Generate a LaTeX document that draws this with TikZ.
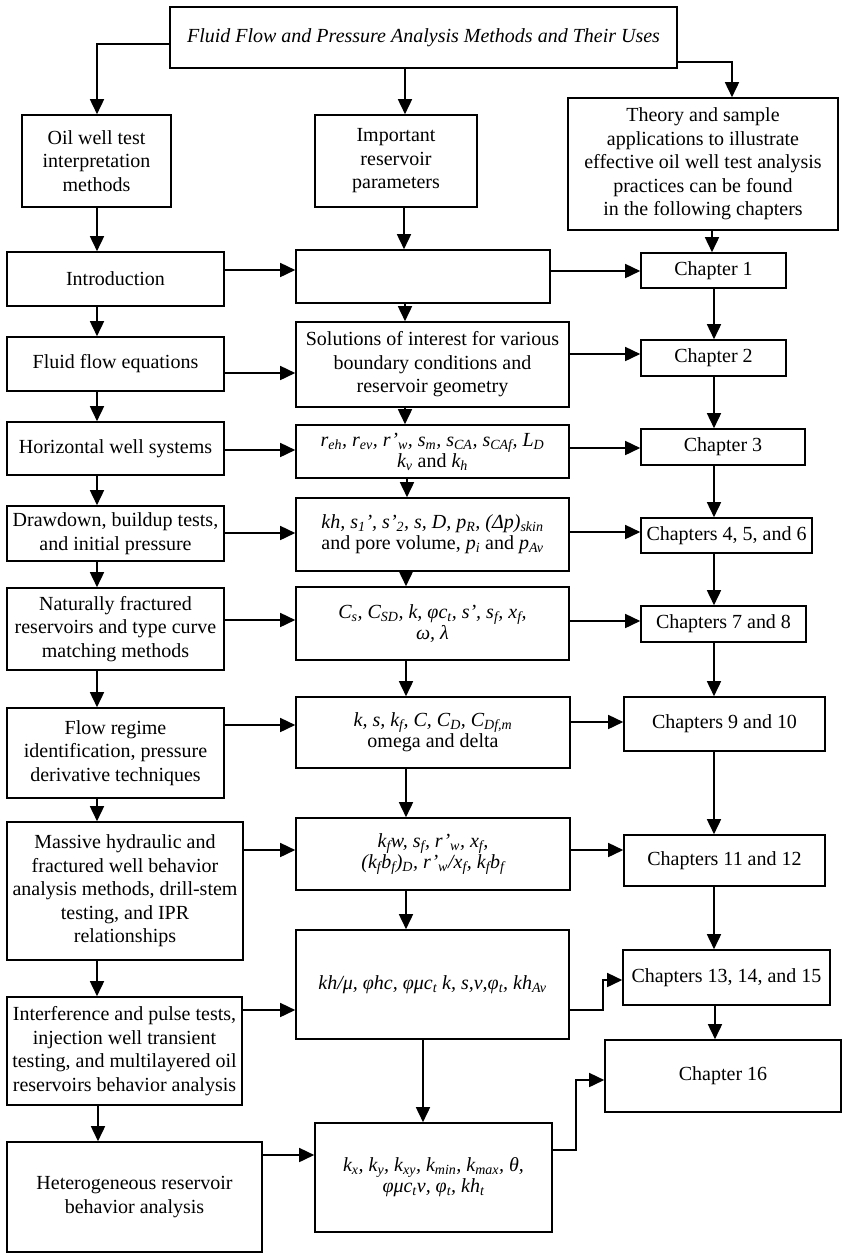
\documentclass[tikz,border=0pt]{standalone}
\usepackage{fontspec}
\setmainfont{Liberation Serif}
\usetikzlibrary{arrows.meta}
\newcommand{\sbt}[1]{\textsubscript{#1}}
% vertical connector between two stacked boxes at a given x
\newcommand{\vcon}[3]{\draw[arr] (#1.south -| #3,0) -- (#2.north -| #3,0);}
% horizontal connector between two boxes of one row at a given y
\newcommand{\hcon}[3]{\draw[arr] (#1.east |- 0,#3) -- (#2.west |- 0,#3);}

\begin{document}
\begin{tikzpicture}[x=1pt,y=-1pt,
  box/.style={draw, line width=1.6pt, align=center, inner sep=2pt,
              font=\fontsize{20}{23.5}\selectfont},
  mbox/.style={box, font=\fontsize{20}{21}\selectfont\itshape},
  arr/.style={line width=1.6pt, -{Triangle[length=15pt,width=14pt]}}]
\useasboundingbox[fill=white] (0,0) rectangle (843,1254);

% header
\node[box, font=\fontsize{20}{23}\selectfont\itshape, minimum width=507, minimum height=61]
  (top) at (423.5,37.5) {Fluid Flow and Pressure Analysis Methods and Their Uses};

% column heads
\node[box, minimum width=149, minimum height=92] (oilw) at (96.5,161)
  {Oil well test\\interpretation\\methods};
\node[box, minimum width=162, minimum height=92] (imp) at (396,161)
  {Important\\reservoir\\parameters};
\node[box, minimum width=270, minimum height=132] (theory) at (703,164)
  {Theory and sample\\applications to illustrate\\effective oil well test analysis\\practices can be found\\in the following chapters};

% left column: methods
\node[box, minimum width=217, minimum height=54] (intro) at (115.5,279) {Introduction};
\node[box, minimum width=217, minimum height=54] (fluid) at (115.5,364) {Fluid flow equations};
\node[box, minimum width=217, minimum height=53] (horiz) at (115.5,448.5) {Horizontal well systems};
\node[box, minimum width=217, minimum height=55] (drawd) at (115.5,533.5)
  {Drawdown, buildup tests,\\and initial pressure};
\node[box, minimum width=217, minimum height=82] (nat) at (115.5,629)
  {Naturally fractured\\reservoirs and type curve\\matching methods};
\node[box, minimum width=217, minimum height=90] (flow) at (115.5,753)
  {Flow regime\\identification, pressure\\derivative techniques};
\node[box, minimum width=236, minimum height=138] (mass) at (125,891)
  {Massive hydraulic and\\fractured well behavior\\analysis methods, drill-stem\\testing, and IPR\\relationships};
\node[box, minimum width=235, minimum height=108] (interf) at (124.5,1051)
  {Interference and pulse tests,\\injection well transient\\testing, and multilayered oil\\reservoirs behavior analysis};
\node[box, minimum width=255, minimum height=110] (het) at (134.5,1197)
  {Heterogeneous reservoir\\behavior analysis};

% middle column: parameters
\node[box, minimum width=254, minimum height=53] (empty) at (423,276.5) {};
\node[box, minimum width=273, minimum height=85] (sol) at (432.5,364.5)
  {Solutions of interest for various\\boundary conditions and\\reservoir geometry};
\node[mbox, minimum width=273, minimum height=53] (rbox) at (432.5,451.5)
  {r\sbt{eh}, r\sbt{ev}, r'\sbt{w}, s\sbt{m}, s\sbt{CA}, s\sbt{CAf}, L\sbt{D}\\k\sbt{v} {\upshape and} k\sbt{h}};
\node[mbox, minimum width=273, minimum height=73] (khbox) at (432.5,534.5)
  {kh, s\sbt{1}', s'\sbt{2}, s, D, p\sbt{R}, (Δp)\sbt{skin}\\{\upshape and pore volume,} p\sbt{i} {\upshape and} p\sbt{Av}};
\node[mbox, minimum width=273, minimum height=73] (cbox) at (432.5,623.5)
  {C\sbt{s}, C\sbt{SD}, k, φc\sbt{t}, s', s\sbt{f}, x\sbt{f},\\ω, λ};
\node[mbox, minimum width=274, minimum height=71] (kbox) at (433,732.5)
  {k, s, k\sbt{f}, C, C\sbt{D}, C\sbt{Df,m}\\{\upshape omega and delta}};
\node[mbox, minimum width=274, minimum height=72] (kfbox) at (433,854)
  {k\sbt{f}w, s\sbt{f}, r'\sbt{w}, x\sbt{f},\\(k\sbt{f}b\sbt{f})\sbt{D}, r'\sbt{w}/x\sbt{f}, k\sbt{f}b\sbt{f}};
\node[mbox, minimum width=273, minimum height=109] (khmu) at (432.5,984.5)
  {kh/μ, φhc, φμc\sbt{t} k, s,ν,φ\sbt{t}, kh\sbt{Av}};
\node[mbox, minimum width=237, minimum height=109] (bot) at (433.5,1177.5)
  {k\sbt{x}, k\sbt{y}, k\sbt{xy}, k\sbt{min}, k\sbt{max}, θ,\\φμc\sbt{t}ν, φ\sbt{t}, kh\sbt{t}};

% right column: chapters
\node[box, minimum width=145, minimum height=35] (ch1) at (713.5,270.5) {Chapter 1};
\node[box, minimum width=145, minimum height=36] (ch2) at (713.5,358) {Chapter 2};
\node[box, minimum width=164, minimum height=36] (ch3) at (723,447) {Chapter 3};
\node[box, minimum width=171, minimum height=35] (ch4) at (726.5,535.5) {Chapters 4, 5, and 6};
\node[box, minimum width=165, minimum height=36] (ch7) at (723.5,624) {Chapters 7 and 8};
\node[box, minimum width=201, minimum height=54] (ch9) at (724.5,724) {Chapters 9 and 10};
\node[box, minimum width=201, minimum height=51] (ch11) at (724.5,860.5) {Chapters 11 and 12};
\node[box, minimum width=207, minimum height=55] (ch13) at (726.5,977.5) {Chapters 13, 14, and 15};
\node[box, minimum width=236, minimum height=72] (ch16) at (723,1076) {Chapter 16};

% header to column heads
\draw[arr] (top.west |- 0,44) -| (oilw.north -| 97,0);
\draw[arr] (top.south -| 405,0) -- (imp.north -| 405,0);
\draw[arr] (top.east |- 0,62) -| (theory.north -| 732,0);

% left column chain
\vcon{oilw}{intro}{97}
\vcon{intro}{fluid}{97}
\vcon{fluid}{horiz}{97}
\vcon{horiz}{drawd}{97}
\vcon{drawd}{nat}{97}
\vcon{nat}{flow}{97}
\vcon{flow}{mass}{97}
\vcon{mass}{interf}{97}
\vcon{interf}{het}{98}

% middle column chain
\vcon{imp}{empty}{404}
\vcon{empty}{sol}{405}
\vcon{sol}{rbox}{405}
\vcon{rbox}{khbox}{407}
\vcon{khbox}{cbox}{406}
\vcon{cbox}{kbox}{406}
\vcon{kbox}{kfbox}{406}
\vcon{kfbox}{khmu}{406}
\vcon{khmu}{bot}{423}

% right column chain
\vcon{theory}{ch1}{712}
\vcon{ch1}{ch2}{714}
\vcon{ch2}{ch3}{714}
\vcon{ch3}{ch4}{714}
\vcon{ch4}{ch7}{714}
\vcon{ch7}{ch9}{714}
\vcon{ch9}{ch11}{714}
\vcon{ch11}{ch13}{714}
\vcon{ch13}{ch16}{715}

% methods to parameters
\hcon{intro}{empty}{270}
\hcon{fluid}{sol}{373}
\hcon{horiz}{rbox}{450}
\hcon{drawd}{khbox}{533}
\hcon{nat}{cbox}{620}
\hcon{flow}{kbox}{725}
\hcon{mass}{kfbox}{850}
\hcon{interf}{khmu}{1010}
\hcon{het}{bot}{1155}

% parameters to chapters
\hcon{empty}{ch1}{271}
\hcon{sol}{ch2}{354}
\hcon{rbox}{ch3}{448}
\hcon{khbox}{ch4}{532}
\hcon{cbox}{ch7}{621}
\hcon{kbox}{ch9}{722}
\hcon{kfbox}{ch11}{850}
\draw[arr] (khmu.east |- 0,1010) -- ++(33,0) |- (ch13.west |- 0,980);
\draw[arr] (bot.east |- 0,1150) -- ++(23,0) |- (ch16.west |- 0,1080);
\end{tikzpicture}
\end{document}
